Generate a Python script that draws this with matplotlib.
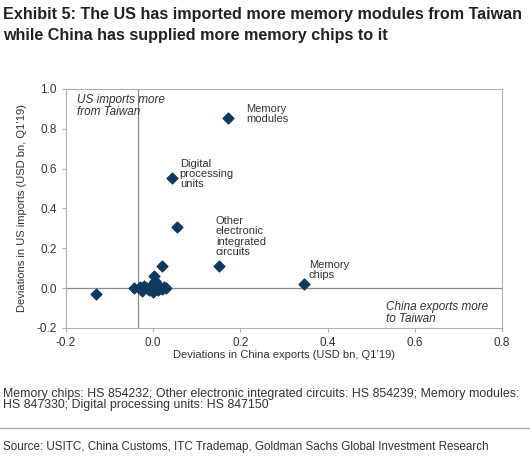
import matplotlib.pyplot as plt

# deviations (USD bn, Q1'19)
china_exports = [0.171, 0.043, 0.055, 0.152, 0.021, 0.345, -0.130,
                 -0.045, -0.030, -0.025, -0.020, -0.015, -0.010, -0.005,
                 0.000, 0.000, 0.002, 0.005, 0.005, 0.008, 0.010, 0.012,
                 0.015, 0.020, 0.025, 0.030]
us_imports = [0.853, 0.555, 0.305, 0.112, 0.112, 0.022, -0.030,
              0.000, 0.005, -0.015, 0.010, 0.000, -0.010, 0.010,
              -0.020, 0.020, 0.060, 0.035, -0.005, 0.000, -0.010, 0.015,
              0.005, -0.005, 0.005, 0.000]

labels = ['Memory\nmodules', 'Digital\nprocessing\nunits',
          'Other\nelectronic\nintegrated\ncircuits', 'Memory\nchips']
label_pos = [(0.214, 0.925), (0.061, 0.65), (0.144, 0.362), (0.357, 0.142)]

navy = '#0f3a60'
grey = '#8c8c8c'
txt = '#333333'
sans = ['Liberation Sans', 'DejaVu Sans']

fig = plt.figure(figsize=(5.3, 4.63), dpi=100)
ax = fig.add_axes([0.1245, 0.2916, 0.8225, 0.5162])

ax.axvline(-0.035, color=grey, lw=0.9, zorder=1)
ax.axhline(0, color=grey, lw=0.9, zorder=1)
ax.scatter(china_exports, us_imports, marker='D', s=30, color=navy, zorder=3)

for lab, (x, y) in zip(labels, label_pos):
    ax.text(x, y, lab, fontsize=8, color=txt, va='top', ha='left',
            family=sans, linespacing=1.05)

ax.text(-0.175, 0.975, 'US imports more\nfrom Taiwan', fontsize=8.5,
        style='italic', color=txt, va='top', family=sans, linespacing=1.0)
ax.text(0.535, -0.062, 'China exports more\nto Taiwan', fontsize=8.5,
        style='italic', color=txt, va='top', family=sans, linespacing=1.0)

ax.set_xlim(-0.2, 0.8)
ax.set_ylim(-0.2, 1.0)
ax.set_xticks([-0.2, 0.0, 0.2, 0.4, 0.6, 0.8])
ax.set_yticks([-0.2, 0.0, 0.2, 0.4, 0.6, 0.8, 1.0])
ax.xaxis.set_major_formatter(plt.FormatStrFormatter('%.1f'))
ax.yaxis.set_major_formatter(plt.FormatStrFormatter('%.1f'))
for s in ax.spines.values():
    s.set_color('#b0b0b0')
    s.set_linewidth(0.8)
ax.tick_params(labelsize=8.5, colors=txt, length=3, color='#b0b0b0')
for t in ax.get_xticklabels() + ax.get_yticklabels():
    t.set_family(sans)

ax.set_xlabel('Deviations in China exports (USD bn, Q1\u201919)', fontsize=8,
              color=txt, family=sans, labelpad=1)
ax.set_ylabel('Deviations in US imports (USD bn, Q1\u201919)', fontsize=8,
              color=txt, family=sans, labelpad=7)

fig.text(0.005, 0.985, 'Exhibit 5: The US has imported more memory modules from Taiwan\n'
         'while China has supplied more memory chips to it', fontsize=11.6,
         weight='bold', va='top', ha='left', color='#222222',
         family=sans, linespacing=1.5)

fig.text(0.005, 0.163, 'Memory chips: HS 854232; Other electronic integrated circuits: HS 854239; Memory modules:\n'
         'HS 847330; Digital processing units: HS 847150', fontsize=8.9,
         va='top', ha='left', color=txt, family=sans, linespacing=0.95)
fig.add_artist(plt.Line2D([0, 1], [0.076, 0.076], color='#aaaaaa', lw=1))
fig.text(0.005, 0.035, 'Source: USITC, China Customs, ITC Trademap, Goldman Sachs Global Investment Research',
         fontsize=8.4, va='center', ha='left', color=txt, family=sans)

fig.savefig('out.png', dpi=100)
